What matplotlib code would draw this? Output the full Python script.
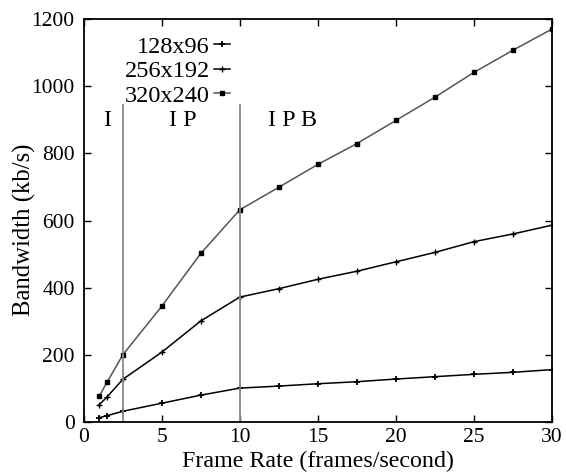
import matplotlib
matplotlib.use("Agg")
from matplotlib import pyplot as plt

plt.rcParams['font.family'] = ['Liberation Serif', 'DejaVu Serif']

fps = [1, 1.5, 2.5, 5, 7.5, 10, 12.5, 15, 17.5, 20, 22.5, 25, 27.5, 30]
bw_128x96 = [13, 19, 32, 56, 80, 101, 107, 114, 120, 128, 135, 142, 148, 156]
bw_256x192 = [52, 75, 127, 208, 301, 372, 397, 425, 449, 477, 505, 537, 560, 586]
bw_320x240 = [78, 119, 200, 345, 502, 632, 699, 767, 829, 898, 967, 1041, 1107, 1170]

mode_bounds = [2.5, 10]
mode_labels = ['I', 'I P', 'I P B']
mode_label_x = [1.5, 6.35, 13.4]

fig = plt.figure(figsize=(5.66, 4.76), dpi=100)
ax = fig.add_axes([0.148, 0.1134, 0.827, 0.8466])

ax.plot(fps, bw_128x96, color='black', lw=1.1, marker='+', ms=5, mew=1.3,
        label='128x96')
ax.plot(fps, bw_256x192, color='black', lw=1.1, marker='+', ms=4, mew=1.0,
        label='256x192')
ax.plot(fps, bw_320x240, color='#555555', lw=1.1, marker='s', ms=3.5,
        mfc='black', mec='black', label='320x240')

for xb in mode_bounds:
    ax.plot([xb, xb], [0, 943], color='#888888', lw=1.3)
for lx, lab in zip(mode_label_x, mode_labels):
    ax.text(lx, 897, lab, ha='center', va='center', fontsize=17.5)

ax.set_xlim(0, 30)
ax.set_ylim(0, 1200)
ax.set_xticks([0, 5, 10, 15, 20, 25, 30])
ax.set_yticks([0, 200, 400, 600, 800, 1000, 1200])
ax.tick_params(direction='in', top=True, right=True, labelsize=15.5, length=5,
               width=1)
ax.tick_params(axis='x', pad=4)
ax.tick_params(axis='y', pad=6.5)
for s in ax.spines.values():
    s.set_linewidth(1.3)

ax.set_xlabel('Frame Rate (frames/second)', fontsize=17.3, labelpad=3)
ax.set_ylabel('Bandwidth (kb/s)', fontsize=17.8)
ax.yaxis.set_label_coords(-0.103, 0.476)

ax.legend(loc='upper right', bbox_to_anchor=((230 - 84) / 468, 0.958),
          borderaxespad=0, borderpad=0, frameon=False, markerfirst=False,
          fontsize=17.5, handlelength=0.66, handletextpad=0.15,
          labelspacing=0.1)

fig.savefig('out.png', dpi=100)
